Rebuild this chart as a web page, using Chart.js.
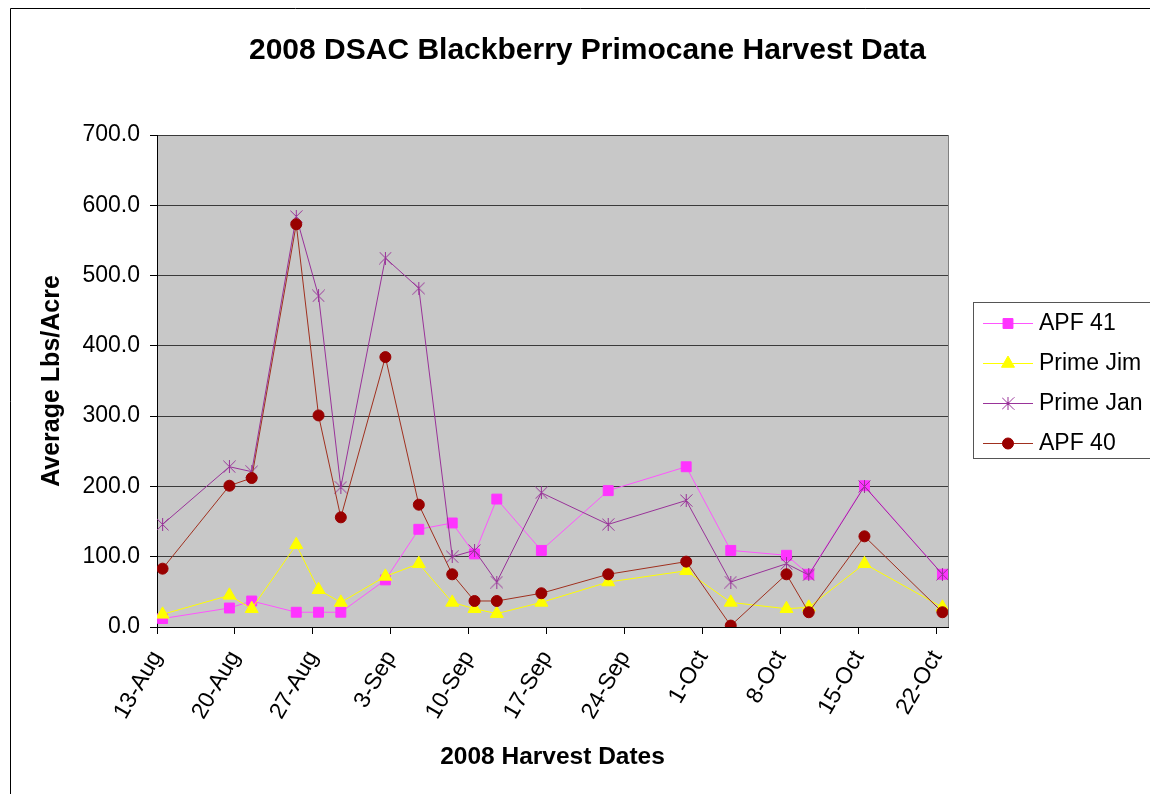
<!DOCTYPE html>
<html>
<head>
<meta charset="utf-8">
<title>2008 DSAC Blackberry Primocane Harvest Data</title>
<script src="https://cdn.jsdelivr.net/npm/chart.js@4.4.1/dist/chart.umd.min.js"></script>
<style>
  html, body { margin: 0; padding: 0; background: #fff; overflow: hidden; }
  canvas { display: block; }
</style>
</head>
<body>
<canvas id="harvest" width="1150" height="794"></canvas>
<script>
// Harvest dates (2008) and average yield per variety, lbs/acre
const harvestDates = ['2008-08-13','2008-08-19','2008-08-21','2008-08-25','2008-08-27','2008-08-29',
  '2008-09-02','2008-09-05','2008-09-08','2008-09-10','2008-09-12','2008-09-16','2008-09-22',
  '2008-09-29','2008-10-03','2008-10-08','2008-10-10','2008-10-15','2008-10-22'];
const apf41    = [12, 27, 37, 21, 21, 21, 67, 139, 148, 104, 182, 109, 194, 228, 109, 102, 75, 201, 75];
const primeJim = [18, 45, 26, 117, 53, 35, 72, 90, 35, 26, 19, 35, 64, 80, 35, 26, 28, 90, 28];
const primeJan = [146, 228, 221, 584, 471, 199, 525, 482, 100, 109, 64, 191, 146, 180, 64, 90, 74, 200, 75];
const apf40    = [83, 201, 212, 573, 301, 156, 384, 174, 75, 37, 37, 48, 75, 93, 2, 75, 21, 129, 21];

// Weekly date-axis ticks
const tickDates  = ['2008-08-13','2008-08-20','2008-08-27','2008-09-03','2008-09-10','2008-09-17',
  '2008-09-24','2008-10-01','2008-10-08','2008-10-15','2008-10-22'];
const tickLabels = ['13-Aug','20-Aug','27-Aug','3-Sep','10-Sep','17-Sep','24-Sep','1-Oct','8-Oct','15-Oct','22-Oct'];
const axisStart = '2008-08-13';
const axisEnd   = '2008-10-23';

const DAY = 86400000;
const dayOf = d => Math.round((Date.parse(d + 'T00:00:00Z') - Date.parse(axisStart + 'T00:00:00Z')) / DAY);
// each date occupies one day slot on the axis; points sit in the middle of their slot
const toPoints = vals => vals.map((v, i) => ({ x: dayOf(harvestDates[i]) + 0.5, y: v }));

// Asterisk marker: an X with a vertical stroke
function asterisk(color, size) {
  const c = document.createElement('canvas');
  c.width = size; c.height = size;
  const g = c.getContext('2d');
  g.strokeStyle = color; g.lineWidth = 1;
  g.beginPath();
  g.moveTo(0.5, 0.5); g.lineTo(size - 0.5, size - 0.5);
  g.moveTo(size - 0.5, 0.5); g.lineTo(0.5, size - 0.5);
  g.moveTo(size / 2, 0); g.lineTo(size / 2, size);
  g.stroke();
  return c;
}

const FONT = '"Liberation Sans", Arial, Helvetica, sans-serif';
Chart.defaults.font.family = FONT;
Chart.defaults.color = '#000';

const janColor = '#993399';

const datasets = [
  { label: 'APF 41', data: toPoints(apf41), borderColor: '#ff55ff', backgroundColor: '#ff33ff',
    pointBorderColor: '#ff33ff', pointStyle: 'rect', pointRadius: 7, pointBorderWidth: 1, order: 4 },
  { label: 'Prime Jim', data: toPoints(primeJim), borderColor: '#ffff00', backgroundColor: '#ffff00',
    pointStyle: 'triangle', pointRadius: 7.5, pointBorderWidth: 1, order: 3 },
  { label: 'Prime Jan', data: toPoints(primeJan), borderColor: janColor, backgroundColor: janColor,
    pointStyle: asterisk(janColor, 13), pointRadius: 6, pointBorderWidth: 1, order: 2 },
  { label: 'APF 40', data: toPoints(apf40), borderColor: '#a0301f', backgroundColor: '#990000',
    pointBorderColor: '#990000', pointStyle: 'circle', pointRadius: 5.5, pointBorderWidth: 1, order: 1 }
];
datasets.forEach(d => { d.borderWidth = 1; d.tension = 0; d.pointHoverRadius = d.pointRadius; });

// Frame, plot background, title and legend
const decor = {
  id: 'decor',
  beforeDraw(chart) {
    const { ctx, chartArea: a } = chart;
    ctx.save();
    ctx.fillStyle = '#fff';
    ctx.fillRect(0, 0, chart.width, chart.height);
    ctx.fillStyle = '#c8c8c8';
    ctx.fillRect(a.left, a.top, a.right - a.left, a.bottom - a.top);
    ctx.strokeStyle = '#808080';
    ctx.lineWidth = 1;
    ctx.strokeRect(Math.round(a.left) + 0.5, Math.round(a.top) + 0.5,
      Math.round(a.right - a.left), Math.round(a.bottom - a.top));
    // outer chart border
    ctx.strokeStyle = '#000';
    ctx.beginPath();
    ctx.moveTo(10.5, chart.height + 2);
    ctx.lineTo(10.5, 8.5);
    ctx.lineTo(chart.width + 2, 8.5);
    ctx.stroke();
    // title
    ctx.fillStyle = '#000';
    ctx.font = 'bold 30px ' + FONT;
    ctx.textAlign = 'center';
    ctx.textBaseline = 'alphabetic';
    ctx.fillText('2008 DSAC Blackberry Primocane Harvest Data', 587.5, 58.5);
    ctx.restore();
  },
  afterDraw(chart) {
    const { ctx } = chart;
    ctx.save();
    // legend box
    ctx.fillStyle = '#fff';
    ctx.fillRect(973, 302, 200, 156);
    ctx.strokeStyle = '#555';
    ctx.lineWidth = 1;
    ctx.strokeRect(973.5, 302.5, 200, 156);
    const rowsY = [323, 363, 403, 443];
    chart.data.datasets.forEach((ds, i) => {
      const y = rowsY[i];
      ctx.strokeStyle = ds.borderColor;
      ctx.lineWidth = 1;
      ctx.beginPath();
      ctx.moveTo(983, y + 0.5);
      ctx.lineTo(1033, y + 0.5);
      ctx.stroke();
      ctx.fillStyle = ds.backgroundColor;
      ctx.strokeStyle = ds.pointBorderColor || ds.borderColor;
      Chart.helpers.drawPoint(ctx, {
        pointStyle: ds.pointStyle, radius: ds.pointRadius, rotation: 0, borderWidth: 1
      }, 1008, y + 0.5);
      ctx.fillStyle = '#000';
      ctx.font = '23px ' + FONT;
      ctx.textAlign = 'left';
      ctx.textBaseline = 'middle';
      ctx.fillText(ds.label, 1039, y + 1);
    });
    ctx.restore();
  }
};

new Chart(document.getElementById('harvest'), {
  type: 'line',
  data: { datasets },
  plugins: [decor],
  options: {
    responsive: false,
    devicePixelRatio: 1,
    animation: false,
    events: [],
    layout: { padding: { top: 135, right: 202, left: 0, bottom: 0 } },
    plugins: { legend: { display: false }, title: { display: false }, tooltip: { enabled: false } },
    scales: {
      x: {
        type: 'linear',
        min: dayOf(axisStart),
        max: dayOf(axisEnd),
        afterBuildTicks: s => { s.ticks = tickDates.map(d => ({ value: dayOf(d) })); },
        afterFit: s => { s.height = 167; },
        ticks: {
          autoSkip: false, minRotation: 60, maxRotation: 60, padding: 12,
          font: { size: 23 }, color: '#000',
          callback: v => tickLabels[tickDates.findIndex(d => dayOf(d) === v)]
        },
        grid: { drawOnChartArea: false, drawTicks: true, tickLength: 7, color: '#000' },
        border: { color: '#000', width: 1 },
        title: { display: true, text: '2008 Harvest Dates', color: '#000',
          font: { size: 24.5, weight: 'bold' }, padding: { top: 0, bottom: 22 } }
      },
      y: {
        min: 0, max: 700,
        afterFit: s => { s.width = 157; },
        ticks: { stepSize: 100, padding: 10, font: { size: 23 }, color: '#000',
          callback: v => v.toFixed(1) },
        grid: { color: '#3a3a3a', tickColor: '#000', tickLength: 7, lineWidth: 1 },
        border: { color: '#000', width: 1 },
        title: { display: true, text: 'Average Lbs/Acre', color: '#000',
          font: { size: 25, weight: 'bold' }, padding: { top: 37, bottom: 0 } }
      }
    }
  }
});
</script>
</body>
</html>
